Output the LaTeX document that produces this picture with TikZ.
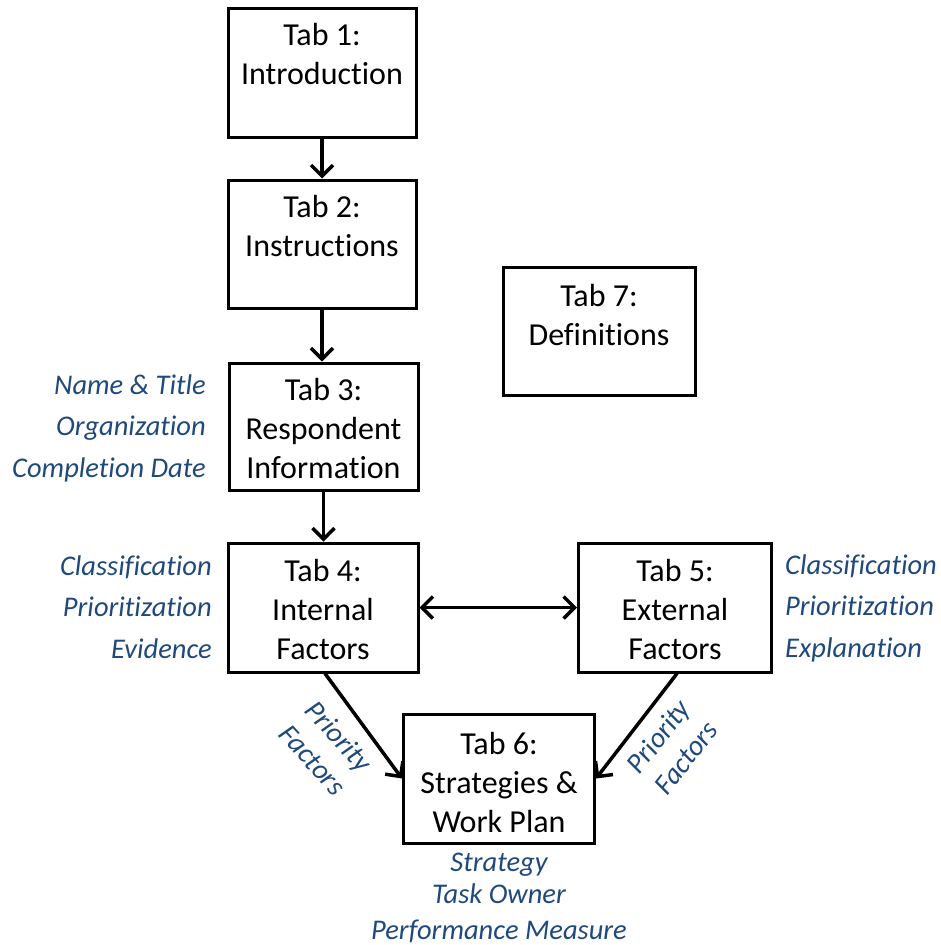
\documentclass[tikz,border=0pt]{standalone}
\usepackage{fontspec}
\setmainfont{Carlito}[Ligatures=NoCommon]
\usetikzlibrary{arrows.meta}
\definecolor{notecol}{HTML}{1F497D}
\tikzset{
  tabbox/.style={draw=black, line width=3pt, minimum width=#1, inner sep=0pt},
  tabtext/.style={anchor=north, align=center, inner sep=0pt,
    font=\fontsize{32}{39}\selectfont},
  note/.style={text=notecol, inner sep=0pt,
    font=\fontsize{28.5}{41.5}\selectfont\itshape},
  barb/.tip={Straight Barb[length=11pt,width=22pt]},
  flow/.style={line width=3.5pt, -barb},
  both/.style={line width=3.5pt, barb-barb}
}
\begin{document}
\begin{tikzpicture}[x=1pt,y=-1pt]
\useasboundingbox (0,0) rectangle (941,945);

% tab boxes
\node[tabbox=188pt, minimum height=129pt] (t1) at (322,72.5) {};
\node[tabbox=188pt, minimum height=128pt] (t2) at (322,244) {};
\node[tabbox=189pt, minimum height=127pt] (t3) at (323.5,426.5) {};
\node[tabbox=190pt, minimum height=129pt] (t4) at (323,607.5) {};
\node[tabbox=193pt, minimum height=129pt] (t5) at (675,607.5) {};
\node[tabbox=191pt, minimum height=129pt] (t6) at (499,778.5) {};
\node[tabbox=192pt, minimum height=128pt] (t7) at (599,331) {};

% box captions, hung from the top edge
\node[tabtext] (t1txt) at ([yshift=-17pt]t1.north) {Tab 1:\\Introduction};
\node[tabtext] (t2txt) at ([yshift=-17pt]t2.north) {Tab 2:\\Instructions};
\node[tabtext] (t3txt) at ([yshift=-17pt]t3.north) {Tab 3:\\Respondent\\Information};
\node[tabtext] (t4txt) at ([yshift=-18pt]t4.north) {Tab 4:\\Internal\\Factors};
\node[tabtext] (t5txt) at ([yshift=-18pt]t5.north) {Tab 5:\\External\\Factors};
\node[tabtext] (t6txt) at ([yshift=-20pt]t6.north) {Tab 6:\\Strategies \&\\Work Plan};
\node[tabtext] (t7txt) at ([yshift=-19pt]t7.north) {Tab 7:\\Definitions};

% connectors
\draw[flow] (t1.south) -- (t2.north);
\draw[flow] (t2.south) -- (t2.south |- t3.north);
\draw[flow] (t3.south) -- (t3.south |- t4.north);
\draw[both] (t4.east) -- (t5.west);
\draw[flow] ([xshift=2pt]t4.south) -- (t6.west);
\draw[flow] ([xshift=2pt]t5.south) -- (t6.east);

% field notes
\node[note, align=right, anchor=east] (n3) at (206,428)
  {Name \& Title\\Organization\\Completion Date};
\node[note, align=right, anchor=east] (n4) at (212,607)
  {Classification\\Prioritization\\Evidence};
\node[note, align=left, anchor=west] (n5) at (785,608)
  {Classification\\Prioritization\\Explanation};
\node[note, align=center, font=\fontsize{28.5}{32}\selectfont\itshape] (n6) at (499,898)
  {Strategy\\Task Owner\\[4pt]Performance Measure};
\node[note, align=center, rotate=-48, font=\fontsize{28.5}{35}\selectfont\itshape] (p4) at (326,748)
  {Priority\\Factors};
\node[note, align=center, rotate=52, font=\fontsize{28.5}{35}\selectfont\itshape] (p5) at (672,747)
  {Priority\\Factors};
\end{tikzpicture}
\end{document}
